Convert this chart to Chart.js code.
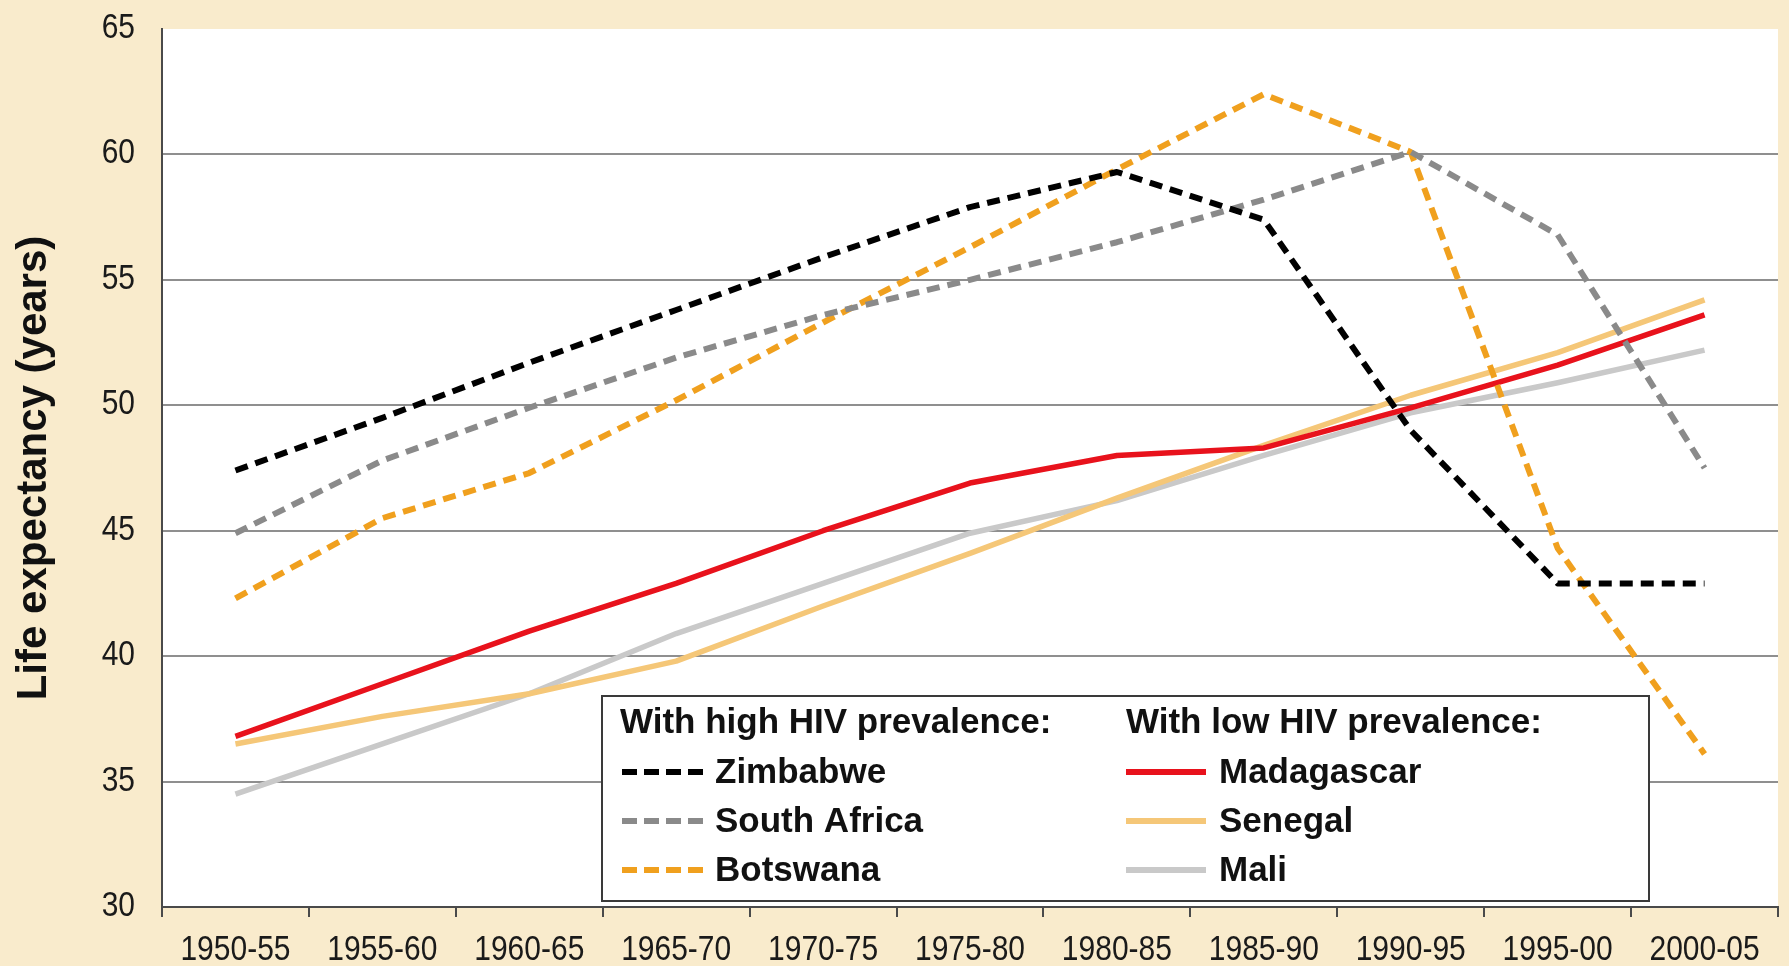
<!DOCTYPE html>
<html><head><meta charset="utf-8">
<script src="https://cdn.jsdelivr.net/npm/chart.js@4"></script>
<style>
html,body{margin:0;padding:0;background:#f9ebcc;}
#wrap{width:1789px;height:966px;position:relative;}
</style>
</head><body>
<div id="wrap"><canvas id="c"></canvas></div>
<script>
const periods = ['1950-55','1955-60','1960-65','1965-70','1970-75','1975-80','1980-85','1985-90','1990-95','1995-00','2000-05'];
const zimbabwe    = [47.4, 49.5, 51.7, 53.8, 55.9, 57.9, 59.3, 57.4, 49.0, 42.9, 42.9];
const southAfrica = [44.9, 47.8, 49.9, 51.9, 53.6, 55.0, 56.5, 58.2, 60.1, 56.8, 47.5];
const botswana    = [42.3, 45.5, 47.3, 50.2, 53.3, 56.3, 59.4, 62.4, 60.1, 44.3, 36.1];
const madagascar  = [36.8, 38.9, 41.0, 42.9, 45.0, 46.9, 48.0, 48.3, 49.9, 51.6, 53.6];
const senegal     = [36.5, 37.6, 38.5, 39.8, 42.0, 44.1, 46.3, 48.4, 50.4, 52.1, 54.2];
const mali        = [34.5, 36.5, 38.5, 40.9, 42.9, 44.9, 46.2, 48.0, 49.7, 50.9, 52.2];
const yMin = 30, yMax = 65, yStep = 5;
const legendHeaders = ['With high HIV prevalence:', 'With low HIV prevalence:'];
const yTitle = 'Life expectancy (years)';

const DASH = [13, 8];
function ds(label, data, color, dashed){
  return {label, data, borderColor: color, backgroundColor: color, borderWidth: dashed ? 6 : 5.5,
    borderDash: dashed ? DASH : [], borderCapStyle: 'butt', borderJoinStyle: 'round',
    pointRadius: 0, tension: 0, fill: false, _dashed: dashed};
}

const bgPlugin = {
  id: 'bg',
  beforeDraw(chart){
    const {ctx, chartArea: a} = chart;
    ctx.save();
    ctx.fillStyle = '#f9ebcc';
    ctx.fillRect(0, 0, chart.width, chart.height);
    ctx.fillStyle = '#ffffff';
    ctx.fillRect(a.left, a.top, a.right - a.left, a.bottom - a.top);
    ctx.restore();
  }
};

// Tick labels drawn from the library's scales, with the tall/narrow look of the original typeface
const tallTicks = {
  id: 'tallTicks',
  afterDraw(chart){
    const ctx = chart.ctx, xs = chart.scales.x, ys = chart.scales.y;
    const k = 1.17;
    ctx.save();
    ctx.fillStyle = '#1a1a1a';
    ctx.font = "30px 'Liberation Sans', Arial, sans-serif";
    ctx.textBaseline = 'alphabetic';
    ctx.textAlign = 'center';
    xs.ticks.forEach((t, i) => {
      const x = xs.getPixelForTick(i);
      ctx.save(); ctx.translate(x, xs.top + 53); ctx.scale(1, k);
      ctx.fillText(xs.getLabelForValue(t.value), 0, 0);
      ctx.restore();
    });
    ctx.textAlign = 'right';
    ys.ticks.forEach((t, i) => {
      const y = ys.getPixelForTick(i);
      ctx.save(); ctx.translate(ys.right - 27, y + 9); ctx.scale(1, k);
      ctx.fillText(String(t.value), 0, 0);
      ctx.restore();
    });
    ctx.restore();
  }
};

const groupLegend = {
  id: 'groupLegend',
  afterDraw(chart){
    const {ctx, chartArea: a} = chart;
    const bw = 1047, bh = 205;
    const bx = a.left + 440, by = a.bottom - 6 - bh;
    ctx.save();
    ctx.fillStyle = '#ffffff';
    ctx.fillRect(bx, by, bw, bh);
    ctx.strokeStyle = '#3a3a3a';
    ctx.lineWidth = 2;
    ctx.strokeRect(bx, by, bw, bh);
    ctx.font = "bold 35px 'Liberation Sans', Arial, sans-serif";
    ctx.textBaseline = 'middle';
    const cols = [{x: bx + 18, sx0: bx + 20, sx1: bx + 105, tx: bx + 113},
                  {x: bx + 524, sx0: bx + 524, sx1: bx + 604, tx: bx + 617}];
    const headY = by + 27, rowH = 49;
    const dsets = chart.data.datasets;
    cols.forEach((c, ci) => {
      ctx.fillStyle = '#111111';
      ctx.fillText(legendHeaders[ci], c.x, headY);
      for (let r = 0; r < 3; r++){
        const d = dsets[ci * 3 + r];
        const y = headY + rowH * (r + 1);
        ctx.beginPath();
        ctx.strokeStyle = d.borderColor;
        ctx.lineWidth = 6;
        ctx.setLineDash(d._dashed ? [15, 7] : []);
        ctx.moveTo(c.sx0, y); ctx.lineTo(c.sx1, y);
        ctx.stroke();
        ctx.setLineDash([]);
        ctx.fillStyle = '#111111';
        ctx.fillText(d.label, c.tx, y + 1);
      }
    });
    ctx.restore();
  }
};

new Chart(document.getElementById('c'), {
  type: 'line',
  data: {
    labels: periods,
    datasets: [
      ds('Zimbabwe', zimbabwe, '#000000', true),
      ds('South Africa', southAfrica, '#8a8a8a', true),
      ds('Botswana', botswana, '#f0a01e', true),
      ds('Madagascar', madagascar, '#e8121c', false),
      ds('Senegal', senegal, '#f5c778', false),
      ds('Mali', mali, '#c9c9c9', false)
    ]
  },
  options: {
    responsive: true, maintainAspectRatio: false, animation: false, devicePixelRatio: 1,
    layout: {padding: {top: 29, right: 11, left: 0, bottom: 0}},
    plugins: {legend: {display: false}, tooltip: {enabled: false}},
    scales: {
      x: {
        offset: true,
        grid: {offset: true, drawOnChartArea: false, drawTicks: true, tickLength: 10, color: '#4a4a4a', lineWidth: 2},
        border: {color: '#4a4a4a', width: 2},
        ticks: {display: false, autoSkip: false, maxRotation: 0},
        afterFit(s){ s.height = 59; }
      },
      y: {
        min: yMin, max: yMax,
        ticks: {display: false, stepSize: yStep},
        grid: {drawTicks: false, lineWidth: 2,
               color: (c) => (c.tick && c.tick.value === yMax) ? 'rgba(0,0,0,0)' : '#8f8f8f'},
        border: {color: '#4a4a4a', width: 2},
        title: {display: true, text: yTitle, color: '#111111',
                font: {family: "'Liberation Sans', Arial, sans-serif", size: 42, weight: 'bold', lineHeight: 1.2},
                padding: {top: 9, bottom: 0}},
        afterFit(s){ s.width = 162; }
      }
    }
  },
  plugins: [bgPlugin, tallTicks, groupLegend]
});
</script>
</body></html>
